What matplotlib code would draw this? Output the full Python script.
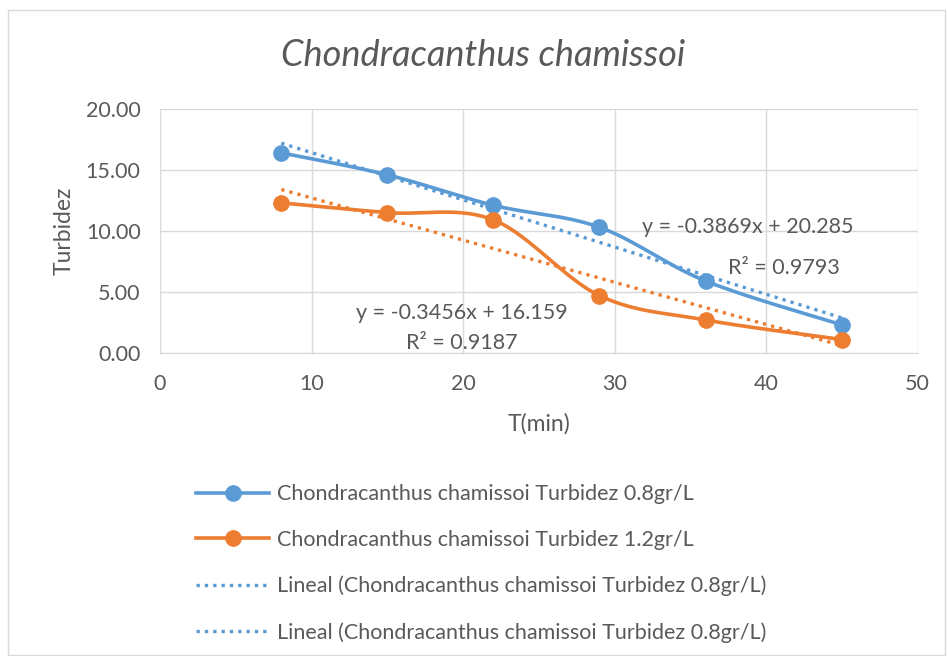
import numpy as np
import matplotlib.pyplot as plt
from matplotlib.lines import Line2D
from matplotlib.patches import Rectangle

plt.rcParams['font.family'] = ['Lato', 'DejaVu Sans']

# tiempos y turbidez medidos
t_min = [8, 15, 22, 29, 36, 45]
turb_08 = [16.4, 14.6, 12.1, 10.3, 5.9, 2.3]
turb_12 = [12.3, 11.5, 10.9, 4.7, 2.7, 1.1]

# rectas de tendencia (pendiente, intercepto, R2)
fit_08 = (-0.3869, 20.285, 0.9793)
fit_12 = (-0.3456, 16.159, 0.9187)

labels = ['Chondracanthus chamissoi Turbidez 0.8gr/L',
          'Chondracanthus chamissoi Turbidez 1.2gr/L',
          'Lineal (Chondracanthus chamissoi Turbidez 0.8gr/L)',
          'Lineal (Chondracanthus chamissoi Turbidez 0.8gr/L)']

BLUE = '#5B9BD5'
ORANGE = '#ED7D31'
GREY = '#595959'


def smooth(x, y, n=30):
    # curva suavizada tipo Excel (Bezier con tangentes de Catmull-Rom)
    x = np.asarray(x, float)
    y = np.asarray(y, float)
    px, py = [], []
    for i in range(len(x) - 1):
        x0, y0 = (x[i - 1], y[i - 1]) if i > 0 else (x[i], y[i])
        x3, y3 = (x[i + 2], y[i + 2]) if i + 2 < len(x) else (x[i + 1], y[i + 1])
        c1x = x[i] + (x[i + 1] - x0) / 6
        c1y = y[i] + (y[i + 1] - y0) / 6
        c2x = x[i + 1] - (x3 - x[i]) / 6
        c2y = y[i + 1] - (y3 - y[i]) / 6
        t = np.linspace(0, 1, n)
        a, b, c, d = (1 - t) ** 3, 3 * t * (1 - t) ** 2, 3 * t ** 2 * (1 - t), t ** 3
        px.extend(a * x[i] + b * c1x + c * c2x + d * x[i + 1])
        py.extend(a * y[i] + b * c1y + c * c2y + d * y[i + 1])
    return px, py


fig = plt.figure(figsize=(9.47, 6.56), dpi=100)
fig.patches.append(Rectangle((0.008, 0.002), 0.99, 0.983, transform=fig.transFigure,
                             fill=False, edgecolor='#d9d9d9', linewidth=1))
ax = fig.add_axes([0.169, 0.462, 0.8, 0.372])

sx, sy = smooth(t_min, turb_08)
ax.plot(sx, sy, color=BLUE, lw=2.6, zorder=3)
ax.plot(t_min, turb_08, 'o', color=BLUE, ms=11, zorder=4)
sx, sy = smooth(t_min, turb_12)
ax.plot(sx, sy, color=ORANGE, lw=2.6, zorder=3)
ax.plot(t_min, turb_12, 'o', color=ORANGE, ms=11, zorder=4)

xt = np.array([t_min[0], t_min[-1]])
ax.plot(xt, fit_08[0] * xt + fit_08[1], color=BLUE, lw=2.4, ls=(0, (1, 1.5)), zorder=5)
ax.plot(xt, fit_12[0] * xt + fit_12[1], color=ORANGE, lw=2.4, ls=(0, (1, 1.5)), zorder=5)

ax.text(38.8, 10.3, f'y = {fit_08[0]}x + {fit_08[1]}', fontsize=15.5, color=GREY, ha='center', va='center')
ax.text(41.2, 7.0, f'R² = {fit_08[2]}', fontsize=15.5, color=GREY, ha='center', va='center')
ax.text(19.9, 3.3, f'y = {fit_12[0]}x + {fit_12[1]}', fontsize=15.5, color=GREY, ha='center', va='center')
ax.text(19.9, 0.8, f'R² = {fit_12[2]}', fontsize=15.5, color=GREY, ha='center', va='center')

ax.set_xlim(0, 50)
ax.set_ylim(0, 20)
ax.set_xticks(range(0, 51, 10))
ax.set_yticks(range(0, 21, 5))
ax.set_yticklabels([f'{v:.2f}' for v in range(0, 21, 5)])
ax.grid(True, color='#d9d9d9', lw=1)
ax.set_axisbelow(True)
for s in ['top', 'right', 'left']:
    ax.spines[s].set_visible(False)
ax.spines['bottom'].set_color('#d9d9d9')
ax.tick_params(length=0, labelsize=15.5, colors=GREY)
ax.tick_params(axis='y', pad=14)
ax.tick_params(axis='x', pad=15)
ax.set_xlabel('T(min)', fontsize=16.5, color=GREY, labelpad=14)
ax.set_ylabel('Turbidez', fontsize=16.5, color=GREY, labelpad=8)
fig.text(0.51, 0.916, 'Chondracanthus chamissoi', fontsize=26, style='italic',
         color=GREY, ha='center', va='center')

handles = [Line2D([], [], color=BLUE, lw=2.6, marker='o', ms=11),
           Line2D([], [], color=ORANGE, lw=2.6, marker='o', ms=11),
           Line2D([], [], color=BLUE, lw=2.4, ls=(0, (1, 1.5))),
           Line2D([], [], color=BLUE, lw=2.4, ls=(0, (1, 1.5)))]
leg = fig.legend(handles, labels, loc='upper left', bbox_to_anchor=(0.207, 0.262),
                 frameon=False, fontsize=15.5, labelspacing=1.2, handlelength=3.4,
                 handletextpad=0.35, borderaxespad=0, borderpad=0)
for txt in leg.get_texts():
    txt.set_color(GREY)

fig.savefig('out.png', dpi=100)
